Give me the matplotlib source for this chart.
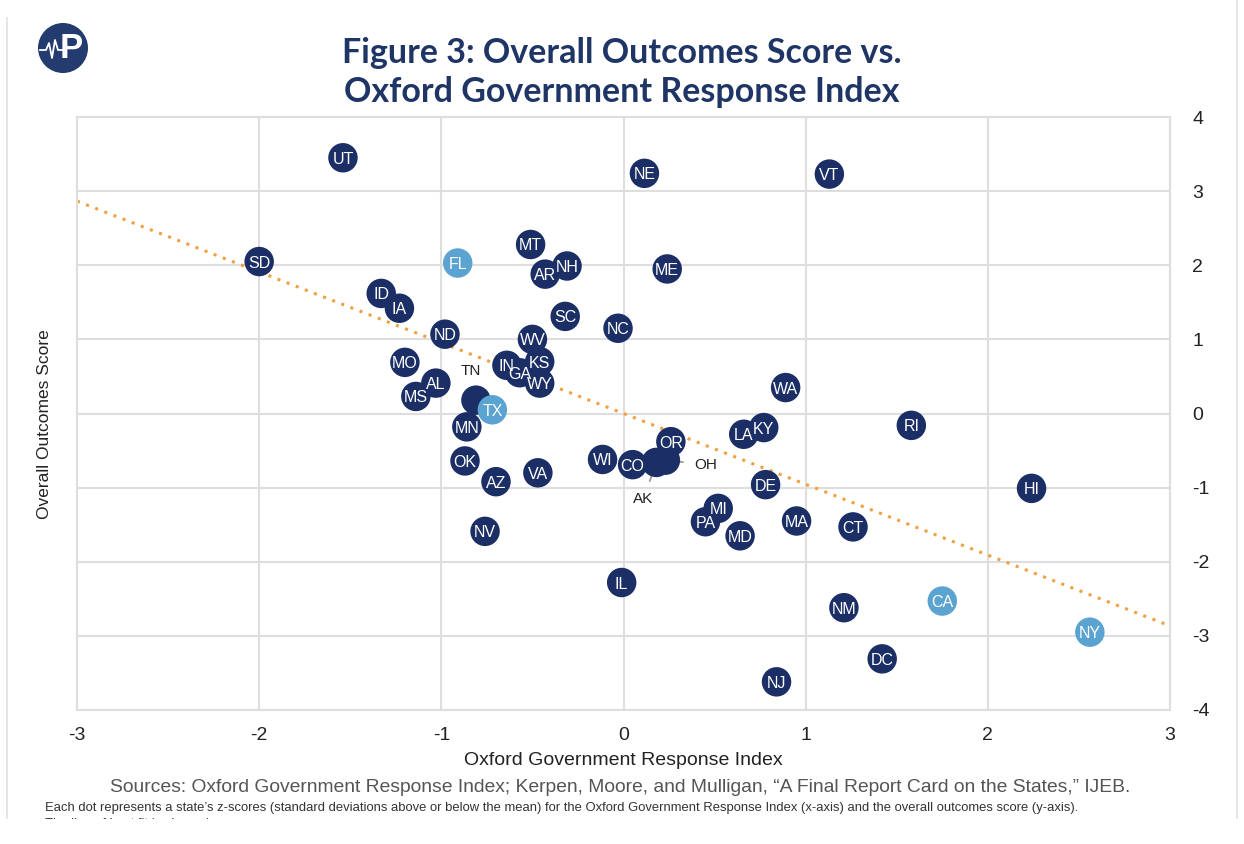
import matplotlib.pyplot as plt
from matplotlib.patches import Circle, Rectangle
from matplotlib.lines import Line2D
import numpy as np

plt.rcParams['font.family'] = ['Liberation Sans', 'DejaVu Sans']
plt.rcParams['axes.unicode_minus'] = False

# state codes, x = Oxford index z-score, y = outcomes z-score
states = ['UT', 'NE', 'VT', 'SD', 'FL', 'MT', 'AR', 'NH', 'ME', 'ID', 'IA', 'SC', 'NC',
          'ND', 'WV', 'MO', 'IN', 'GA', 'KS', 'WY', 'AL', 'MS', 'TN', 'TX', 'MN', 'OK',
          'AZ', 'VA', 'NV', 'WI', 'CO', 'AK', 'OH', 'OR', 'LA', 'KY', 'DE', 'WA', 'RI',
          'HI', 'MI', 'PA', 'MD', 'MA', 'CT', 'IL', 'NM', 'CA', 'NY', 'DC', 'NJ']
oxford = [-1.54, 0.115, 1.13, -2.0, -0.91, -0.51, -0.43, -0.31, 0.24, -1.33, -1.23, -0.32, -0.03,
          -0.98, -0.50, -1.20, -0.64, -0.57, -0.46, -0.46, -1.03, -1.14, -0.81, -0.72, -0.86, -0.87,
          -0.70, -0.47, -0.76, -0.115, 0.05, 0.18, 0.23, 0.26, 0.66, 0.77, 0.78, 0.89, 1.58,
          2.24, 0.52, 0.45, 0.64, 0.95, 1.26, -0.01, 1.21, 1.75, 2.56, 1.42, 0.84]
outcomes = [3.45, 3.24, 3.23, 2.05, 2.03, 2.28, 1.88, 1.99, 1.95, 1.62, 1.42, 1.31, 1.15,
            1.07, 1.0, 0.69, 0.65, 0.55, 0.70, 0.41, 0.41, 0.23, 0.18, 0.05, -0.18, -0.64,
            -0.92, -0.80, -1.59, -0.62, -0.69, -0.66, -0.63, -0.38, -0.28, -0.19, -0.96, 0.35, -0.16,
            -1.01, -1.28, -1.46, -1.65, -1.45, -1.53, -2.28, -2.62, -2.53, -2.95, -3.31, -3.62]
highlight = ['FL', 'TX', 'CA', 'NY']
outside = {'TN': (-0.84, 0.57), 'OH': (0.45, -0.69), 'AK': (0.11, -1.15)}

trend_x = [-3, 3]
trend_slope = -0.955

navy = '#1b2f66'
light = '#5ba3d0'
grid_c = '#dedede'

fig = plt.figure(figsize=(12.44, 8.44), dpi=100)
ax = fig.add_axes([77 / 1244, 1 - 710 / 844, (1170 - 77) / 1244, (710 - 117) / 844])

ax.set_xlim(-3, 3)
ax.set_ylim(-4, 4)
ax.set_xticks(range(-3, 4))
ax.set_yticks(range(-4, 5))
ax.grid(True, color=grid_c, lw=1.5)
ax.set_axisbelow(True)
for s in ax.spines.values():
    s.set_color(grid_c)
    s.set_linewidth(1.5)
ax.yaxis.tick_right()
ax.tick_params(length=0, labelsize=14, colors='#222222', pad=16)
ax.tick_params(axis='x', pad=12)

tx = np.array(trend_x)
ax.plot(tx, trend_slope * tx, ls=(0, (1, 2.2)), color='#f0a040', lw=2.2, zorder=1)

for st, xv, yv in zip(states, oxford, outcomes):
    c = light if st in highlight else navy
    ax.scatter(xv, yv, s=450, color=c, edgecolors='none', zorder=3)
    if st in outside:
        lx, ly = outside[st]
        ax.annotate(st, (xv, yv), xytext=(lx, ly), fontsize=11, color='#222222',
                    ha='center', va='center',
                    arrowprops=dict(arrowstyle='-', color='#999999', lw=1.3, shrinkA=6, shrinkB=0),
                    zorder=2)
    else:
        ax.text(xv, yv, st, color='white', fontsize=11.5, ha='center', va='center_baseline', zorder=4)

ax.set_xlabel('Oxford Government Response Index', fontsize=14, color='#222222', labelpad=6)
ax.set_ylabel('Overall Outcomes Score', fontsize=12.5, color='#222222')
ax.yaxis.set_label_coords(-0.023, 0.482)

fig.text(0.5, 0.914, 'Figure 3: Overall Outcomes Score vs.\nOxford Government Response Index',
         ha='center', va='center', fontsize=24.5, fontweight='bold', color='#1f3566', linespacing=1.25,
         family=['Lato', 'DejaVu Sans'])

fig.text(620 / 1244, 1 - 787 / 844,
         'Sources: Oxford Government Response Index; Kerpen, Moore, and Mulligan, \u201cA Final Report Card on the States,\u201d IJEB.',
         ha='center', va='center', fontsize=13.9, color='#555555')
fig.text(45 / 1244, 1 - 808 / 844,
         'Each dot represents a state\u2019s z-scores (standard deviations above or below the mean) for the Oxford Government Response Index (x-axis) and the overall outcomes score (y-axis).',
         ha='left', va='center', fontsize=9.4, color='#333333')
fig.text(45 / 1244, 1 - 824 / 844, 'The line of best fit is shown in orange.',
         ha='left', va='center', fontsize=9.4, color='#333333')
fig.patches.append(Rectangle((0, 0), 1, 1 - 819 / 844, transform=fig.transFigure,
                             facecolor='white', edgecolor='none', zorder=10))

# panel borders
fig.lines.append(Line2D([7 / 1244, 7 / 1244], [1 - 819 / 844, 1 - 18 / 844], transform=fig.transFigure,
                        color='#e2e2e2', lw=1.2))
fig.lines.append(Line2D([1237 / 1244, 1237 / 1244], [1 - 819 / 844, 1], transform=fig.transFigure,
                        color='#e2e2e2', lw=1.2))

# logo
lx, ly = 63 / 1244, 1 - 48 / 844
fig.patches.append(Circle((63, 844 - 48), 25, transform=None, facecolor='#233b6e', edgecolor='none'))
fig.text(lx + 0.007, ly, 'P', ha='center', va='center', fontsize=25, fontweight='bold', color='white')
px = np.array([40, 46, 49, 52, 55, 58, 66]) / 1244
py = 1 - np.array([50, 50, 43, 58, 40, 50, 50]) / 844
fig.lines.append(Line2D(px, py, transform=fig.transFigure, color='white', lw=1.3))

fig.savefig('out.png', dpi=100)
